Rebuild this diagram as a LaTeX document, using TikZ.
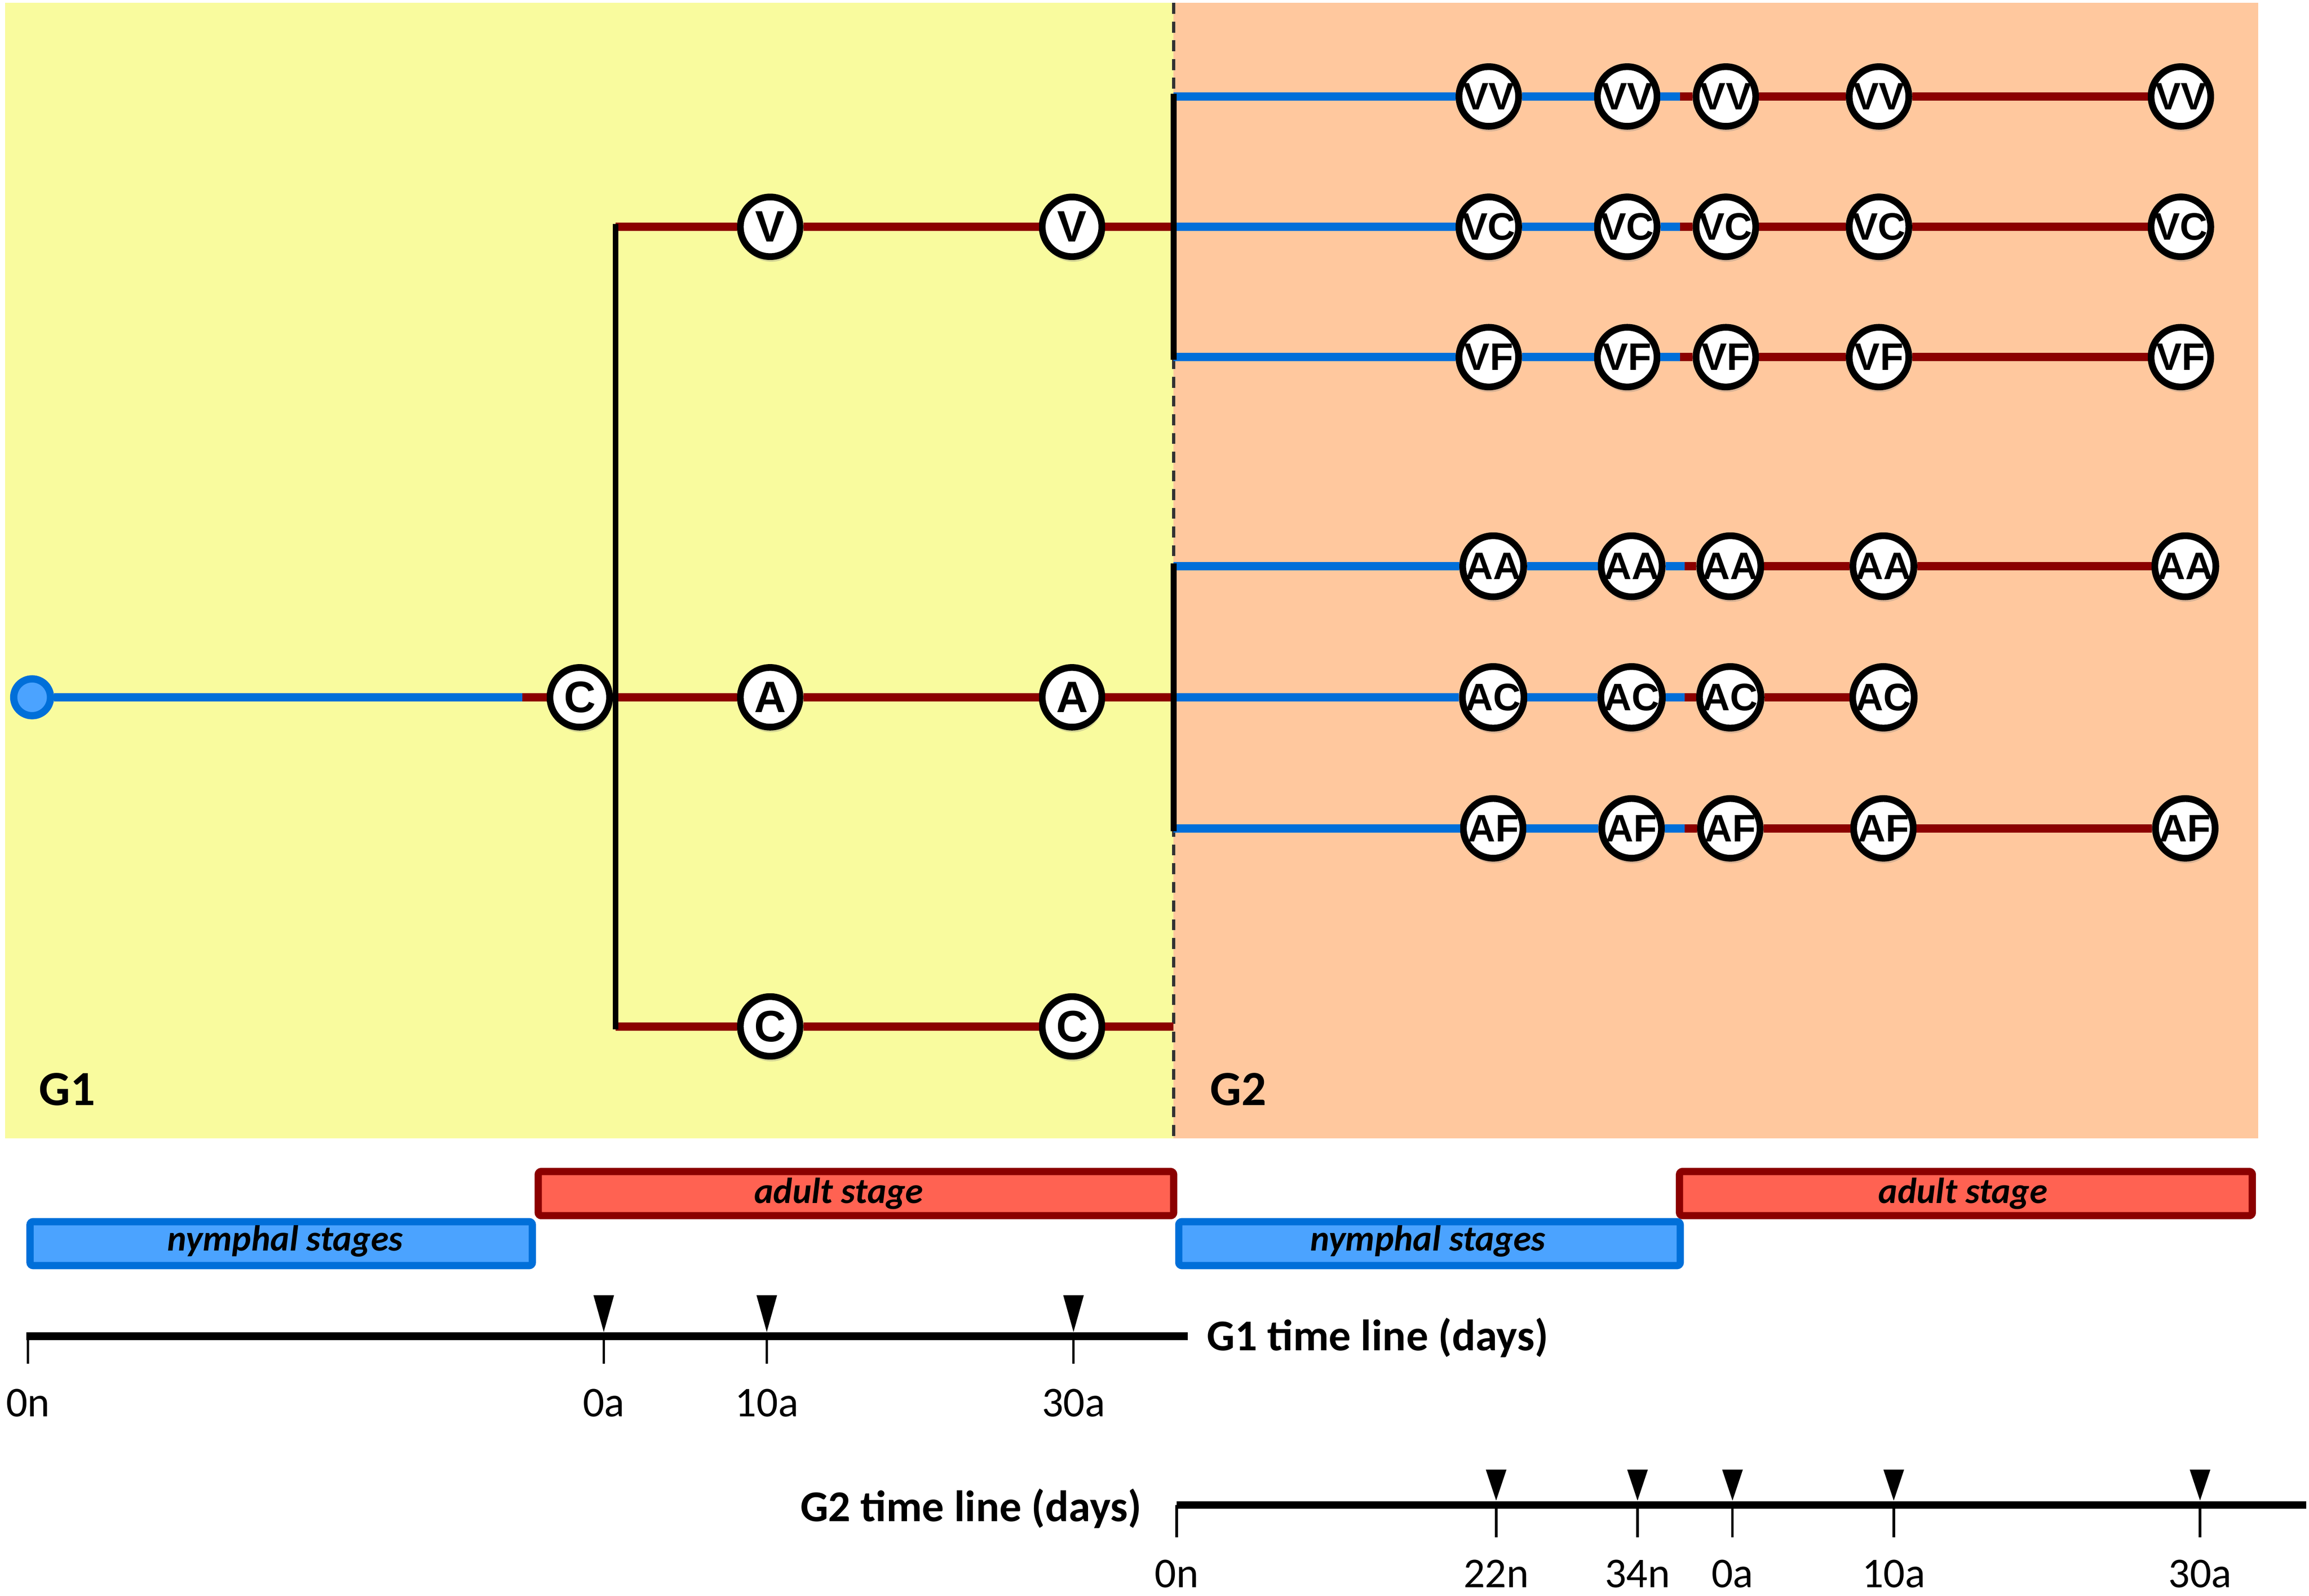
\documentclass[tikz,border=0pt]{standalone}
\usepackage{fontspec}
\setmainfont{Carlito}
\newfontfamily\arialfont{Liberation Sans}
\usepackage{tikz}
\usetikzlibrary{shadows}
\definecolor{g1bg}{HTML}{F9FB9E}
\definecolor{g2bg}{HTML}{FFC89E}
\definecolor{nymph}{HTML}{006FD9}
\definecolor{nymphfill}{HTML}{4BA3FF}
\definecolor{adult}{HTML}{8B0000}
\definecolor{adultfill}{HTML}{FF6252}
\tikzstyle{sample}=[circle, draw, line width=1.3pt, fill=white, inner sep=0pt, minimum size=4.05mm, font=\arialfont\bfseries\fontsize{8.5}{8.5}\selectfont, drop shadow={shadow xshift=0.2pt, shadow yshift=-1pt, opacity=0.3}]
\tikzstyle{duosample}=[sample, font=\arialfont\bfseries\fontsize{7.4}{7.4}\selectfont]
\tikzstyle{nymphline}=[nymph, line width=1.6pt]
\tikzstyle{adultline}=[adult, line width=1.6pt]
\tikzstyle{splitline}=[black, line width=1.1pt, line cap=rect]
\tikzstyle{stagebar}=[line width=1.4pt, rounded corners=0.6pt]
\tikzstyle{stagetext}=[font=\bfseries\itshape\fontsize{7}{7}\selectfont, anchor=base, inner sep=0pt]
\tikzstyle{genlabel}=[font=\bfseries\fontsize{9.5}{9.5}\selectfont, anchor=base west, inner sep=0pt]
\tikzstyle{timelabel}=[font=\bfseries\fontsize{8.5}{8.5}\selectfont, inner sep=0pt]
\tikzstyle{daylabel}=[font=\fontsize{8.2}{8.2}\selectfont, anchor=base, inner sep=0pt]
\tikzstyle{timeline}=[black, line width=1.5pt]
\tikzstyle{daytick}=[black, line width=0.5pt]
\newcommand{\sample}{\node[sample]}
\newcommand{\duosample}{\node[duosample]}

\begin{document}
\begin{tikzpicture}[x=0.1mm, y=-0.1mm]
\useasboundingbox (0,0) rectangle (1568,1083.6);
% generations
\fill[g1bg] (3.6,2) rectangle (797,773);
\fill[g2bg] (797,2) rectangle (1533.6,773);
\draw[black!80, line width=0.57pt, dash pattern=on 0.74mm off 0.53mm] (797,2) -- (797,773);
\node[genlabel] (g1) at (25.7,750.6) {G1};
\node[genlabel] (g2) at (821,750.6) {G2};

% G1 tree
\node[circle, draw=nymph, fill=nymphfill, line width=1.4pt, minimum size=2.5mm, inner sep=0pt] (egg) at (21.8,473.5) {};
\sample (c0) at (393.7,473.5) {C};
\sample (v1) at (523,154) {V};
\sample (v2) at (728,154) {V};
\sample (a1) at (523,473.5) {A};
\sample (a2) at (728,473.5) {A};
\sample (c1) at (523,697) {C};
\sample (c2) at (728,697) {C};
\coordinate (moult) at (354.6,473.5);
\coordinate (s1) at (418,473.5);
\coordinate (s1top) at (418,154);
\coordinate (s1bot) at (418,697);
\coordinate (vend) at (797,154);
\coordinate (aend) at (797,473.5);
\coordinate (cend) at (797,697);
\draw[nymphline] (egg) -- (moult);
\draw[adultline] (moult) -- (c0) -- (s1) -- (a1) -- (a2) -- (aend);
\draw[adultline] (s1top) -- (v1) -- (v2) -- (vend);
\draw[adultline] (s1bot) -- (c1) -- (c2) -- (cend);
\draw[splitline] (s1top) -- (s1bot);

% G2 rows
\foreach \lab/\y/\dx in {VV/65.5/0, VC/154/0, VF/242.5/0, AA/384.5/3, AC/473.5/3, AF/562.5/3} {
    \duosample (\lab-1) at ({1011+\dx},\y) {\lab};
    \duosample (\lab-2) at ({1105+\dx},\y) {\lab};
    \duosample (\lab-3) at ({1172+\dx},\y) {\lab};
    \duosample (\lab-4) at ({1276+\dx},\y) {\lab};
    \coordinate (\lab-0) at (797,\y);
    \coordinate (\lab-m) at ({1141+\dx},\y);
    \draw[nymphline] (\lab-0) -- (\lab-1) -- (\lab-2) -- (\lab-m);
    \draw[adultline] (\lab-m) -- (\lab-3) -- (\lab-4);
}
\foreach \lab/\y/\dx in {VV/65.5/0, VC/154/0, VF/242.5/0, AA/384.5/3, AF/562.5/3} {
    \duosample (\lab-5) at ({1481+\dx},\y) {\lab};
    \draw[adultline] (\lab-4) -- (\lab-5);
}
\draw[splitline] (VV-0) -- (VF-0);
\draw[splitline] (AA-0) -- (AF-0);

% stages
\draw[stagebar, draw=adult, fill=adultfill] (365.5,795.5) rectangle (797,825.5);
\draw[stagebar, draw=adult, fill=adultfill] (1140.5,795.5) rectangle (1529.5,825.5);
\draw[stagebar, draw=nymph, fill=nymphfill] (20.4,829.6) rectangle (361.5,859.4);
\draw[stagebar, draw=nymph, fill=nymphfill] (800.5,829.6) rectangle (1141,859.4);
\node[stagetext] (nymph1) at (193.7,849.5) {nymphal stages};
\node[stagetext] (adult1) at (569.6,817) {adult stage};
\node[stagetext] (nymph2) at (969.6,849.5) {nymphal stages};
\node[stagetext] (adult2) at (1333,817) {adult stage};

% G1 time line
\coordinate (t1start) at (18,907.5);
\coordinate (t1end) at (806.5,907.5);
\draw[timeline] (t1start) -- (t1end);
\node[timelabel, anchor=base west] (t1lab) at (819,917) {G1 time line (days)};
\foreach \x/\t in {19/0n, 410/0a, 520.7/10a, 729/30a} {
    \draw[daytick] (\x,907.5) -- (\x,926);
    \node[daylabel] (t1-\t) at (\x,962) {\t};
}
\foreach \x in {410, 520.7, 729}
    \fill ({\x-7},879.5) -- ({\x+7},879.5) -- (\x,904.5) -- cycle;

% G2 time line
\coordinate (t2start) at (799,1022);
\coordinate (t2end) at (1566,1022);
\draw[timeline] (t2start) -- (t2end);
\node[timelabel, anchor=base east] (t2lab) at (776,1033) {G2 time line (days)};
\foreach \x/\t in {799/0n, 1016/22n, 1112/34n, 1176.5/0a, 1286/10a, 1494/30a} {
    \draw[daytick] (\x,1022) -- (\x,1044);
    \node[daylabel] (t2-\t) at (\x,1078) {\t};
}
\foreach \x in {1016, 1112, 1176.5, 1286, 1494}
    \fill ({\x-7},998) -- ({\x+7},998) -- (\x,1019) -- cycle;
\end{tikzpicture}
\end{document}
